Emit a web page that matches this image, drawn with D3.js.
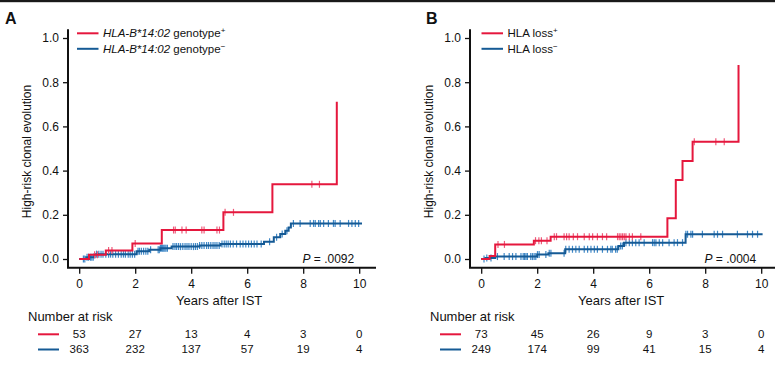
<!DOCTYPE html>
<html>
<head>
<meta charset="utf-8">
<script src="https://cdn.jsdelivr.net/npm/d3@7"></script>
<style>
  html, body { margin: 0; padding: 0; background: #fff; }
  svg { display: block; }
</style>
</head>
<body>
<svg id="chart" width="775" height="366"></svg>
<script>
// ---------------- DATA ----------------
const yearTicks = [0, 2, 4, 6, 8, 10];
const yTicks = [0, 0.2, 0.4, 0.6, 0.8, 1.0];
const xAxisTitle = "Years after IST";
const yAxisTitle = "High-risk clonal evolution";

// Panel A : HLA-B*14:02 genotype
const aPosTimes  = [0, 0.35, 0.95, 1.9, 2.95, 5.15, 6.9, 9.2];
const aPosValues = [0, 0.019, 0.038, 0.07, 0.131, 0.211, 0.338, 0.712];
const aPosEnd = 9.2;
const aPosCensor = [0.55, 0.65, 1.05, 1.17, 2.0, 3.37, 3.43, 3.67, 3.82, 4.38, 4.46, 4.92, 5.01, 5.21, 5.51, 8.31, 8.58];

const aNegTimes  = [0, 0.25, 0.55, 2.05, 2.5, 2.9, 3.3, 4.3, 5.05, 6.6, 6.95, 7.18, 7.36, 7.48, 7.56];
const aNegValues = [0, 0.008, 0.022, 0.035, 0.042, 0.049, 0.056, 0.061, 0.068, 0.078, 0.098, 0.113, 0.128, 0.142, 0.161];
const aNegEnd = 10.1;
const aNegCensor = [0.15, 0.2, 0.28, 0.33, 0.4, 0.45, 0.5, 0.62, 0.7, 0.78, 0.85, 0.95, 1.05, 1.12, 1.2, 1.3, 1.4, 1.5, 1.58, 1.65, 1.75, 1.82, 1.9, 1.98,
  2.1, 2.15, 2.22, 2.3, 2.38, 2.45, 2.55, 2.82, 2.86, 2.9, 2.94, 2.98, 3.02, 3.06, 3.1, 3.15,
  3.35, 3.42, 3.48, 3.55, 3.62, 3.7, 3.78, 3.85, 3.92, 4.0, 4.08, 4.15, 4.22, 4.3, 4.38, 4.46, 4.55, 4.62, 4.7, 4.78, 4.85, 4.92, 5.0,
  5.1, 5.18, 5.25, 5.32, 5.4, 5.5, 5.62, 5.75, 5.85, 5.95, 6.05, 6.15, 6.25, 6.35, 6.5, 6.8, 7.05, 7.25, 7.42,
  7.65, 7.89, 8.25, 8.37, 8.43, 8.55, 8.61, 8.73, 8.9, 9.08, 9.14, 9.32, 9.62, 9.74, 9.86, 9.98];

const aRiskPos = [53, 27, 13, 4, 3, 0];
const aRiskNeg = [363, 232, 137, 57, 19, 4];
const aPValue = ".0092";

// Panel B : HLA loss
const bPosTimes  = [0, 0.3, 0.5, 1.88, 2.48, 6.65, 6.95, 7.19, 7.55, 9.19];
const bPosValues = [0, 0.014, 0.066, 0.083, 0.101, 0.184, 0.357, 0.443, 0.531, 0.878];
const bPosEnd = 9.19;
const bPosCensor = [0.6, 0.83, 1.94, 2.06, 2.15, 2.35, 2.61, 2.69, 2.96, 3.05, 3.14, 3.29, 3.44, 3.68, 3.86, 3.98, 4.15, 4.33, 4.48,
  4.87, 4.93, 4.99, 5.05, 5.11, 5.17, 5.29, 5.4, 5.7, 7.61, 8.38, 8.68];

const bNegTimes  = [0, 0.15, 0.5, 2.0, 2.4, 3.0, 4.9, 5.1, 7.3];
const bNegValues = [0, 0.004, 0.011, 0.02, 0.026, 0.044, 0.059, 0.074, 0.112];
const bNegEnd = 10.05;
const bNegCensor = [0.1, 0.2, 0.35, 0.58, 0.82, 1.0, 1.12, 1.24, 1.42, 1.5, 1.55, 1.6, 1.65, 1.77, 1.83, 1.89, 1.95, 2.01, 2.07,
  2.31, 2.43, 2.49, 2.96, 3.02, 3.14, 3.26, 3.38, 3.5, 3.68, 3.8, 3.92, 4.04, 4.15, 4.33, 4.51, 4.63, 4.68, 4.8, 4.86, 4.98, 5.04,
  5.17, 5.29, 5.4, 5.52, 5.64, 5.82, 6.12, 6.18, 6.24, 6.36, 6.48, 6.71, 6.89, 7.01, 7.19, 7.31, 7.37, 7.49, 7.55, 7.9, 8.32, 8.44,
  8.62, 9.15, 9.51, 9.69, 9.87];

const bRiskPos = [73, 45, 26, 9, 3, 0];
const bRiskNeg = [249, 174, 99, 41, 15, 4];
const bPValue = ".0004";

// ---------------- STYLE ----------------
const RED = "#e5173d", BLUE = "#155a95";
const RED_C = "#ee5a7a", BLUE_C = "#3f88c7";
const FONT = "'Liberation Sans', Arial, sans-serif";
const NARROW = "'Liberation Sans Narrow', 'Liberation Sans', Arial, sans-serif";

const svg = d3.select("#chart");

// top rule
svg.append("rect").attr("x", 0).attr("y", 0).attr("width", 775).attr("height", 2.2).attr("fill", "#1a1a1a");

const panels = [
  {
    label: "A", ox: 0,
    legend: [{ital: "HLA-B*14:02", rest: " genotype", sup: "+"}, {ital: "HLA-B*14:02", rest: " genotype", sup: "\u2212"}],
    legendX: 77,
    pos: {times: aPosTimes, values: aPosValues, end: aPosEnd, censor: aPosCensor},
    neg: {times: aNegTimes, values: aNegValues, end: aNegEnd, censor: aNegCensor},
    riskPos: aRiskPos, riskNeg: aRiskNeg, p: aPValue
  },
  {
    label: "B", ox: 402,
    legend: [{ital: "", rest: "HLA loss", sup: "+"}, {ital: "", rest: "HLA loss", sup: "\u2212"}],
    legendX: 481.5 - 402,
    pos: {times: bPosTimes, values: bPosValues, end: bPosEnd, censor: bPosCensor},
    neg: {times: bNegTimes, values: bNegValues, end: bNegEnd, censor: bNegCensor},
    riskPos: bRiskPos, riskNeg: bRiskNeg, p: bPValue
  }
];

panels.forEach(P => {
  const g = svg.append("g").attr("transform", `translate(${P.ox},0)`);
  const x = d3.scaleLinear().domain([-0.4, 10.6]).range([68, 376]);
  const y = d3.scaleLinear().domain([-0.04, 1.04]).range([267.84, 29.16]);

  // panel letter
  g.append("text").attr("x", P.label === "A" ? 5 : 24).attr("y", 24)
    .attr("font-family", FONT).attr("font-weight", "bold").attr("font-size", 16)
    .attr("fill", "#111").text(P.label);

  // y axis
  const yAx = g.append("g").attr("transform", `translate(${x(-0.4)},0)`)
    .call(d3.axisLeft(y).tickValues(yTicks).tickFormat(d3.format(".1f")).tickSize(5).tickSizeOuter(0).tickPadding(4));
  yAx.select(".domain").remove();
  yAx.selectAll(".tick line").attr("stroke", "#111").attr("stroke-width", 1.3);
  yAx.selectAll(".tick text").attr("font-family", FONT).attr("font-size", 12).attr("fill", "#111");

  // x axis
  const xAx = g.append("g").attr("transform", `translate(0,${y(-0.04)})`)
    .call(d3.axisBottom(x).tickValues(yearTicks).tickFormat(d3.format("d")).tickSize(6).tickSizeOuter(0).tickPadding(6));
  xAx.select(".domain").remove();
  xAx.selectAll(".tick line").attr("stroke", "#111").attr("stroke-width", 1.3);
  xAx.selectAll(".tick text").attr("font-family", FONT).attr("font-size", 12).attr("fill", "#111");

  // axis lines (L shape)
  g.append("path")
    .attr("d", `M${x(-0.4)},${y(1.04)} V${y(-0.04)} H${x(10.6)}`)
    .attr("fill", "none").attr("stroke", "#111").attr("stroke-width", 2);

  // titles
  g.append("text").attr("transform", `translate(${x(-0.4) - 37},${(y(1) + y(0)) / 2 + 3}) rotate(-90)`)
    .attr("text-anchor", "middle").attr("font-family", FONT).attr("font-size", 12).attr("fill", "#111")
    .text(yAxisTitle);
  g.append("text").attr("x", (x(0) + x(10)) / 2).attr("y", 305)
    .attr("text-anchor", "middle").attr("font-family", NARROW).attr("font-size", 13).attr("fill", "#111")
    .text(xAxisTitle);

  // curves
  const line = d3.line().x(d => x(d[0])).y(d => y(d[1])).curve(d3.curveStepAfter);
  const drawSeries = (s, color, ccolor) => {
    const pts = s.times.map((t, i) => [t, s.values[i]]);
    if (s.end > s.times[s.times.length - 1]) pts.push([s.end, s.values[s.values.length - 1]]);
    // censor marks
    const valAt = t => s.values[Math.max(0, d3.bisectRight(s.times, t) - 1)];
    g.append("g").selectAll("line").data(s.censor).join("line")
      .attr("x1", d => x(d)).attr("x2", d => x(d))
      .attr("y1", d => y(valAt(d)) - 3.5).attr("y2", d => y(valAt(d)) + 3.5)
      .attr("stroke", ccolor).attr("stroke-width", 1.2);
    g.append("path").datum(pts).attr("d", line)
      .attr("fill", "none").attr("stroke", color).attr("stroke-width", 2);
  };
  drawSeries(P.neg, BLUE, BLUE_C);
  drawSeries(P.pos, RED, RED_C);

  // legend
  P.legend.forEach((L, i) => {
    const ly = 33.3 + i * 15.5;
    g.append("line").attr("x1", P.legendX).attr("x2", P.legendX + 21.5).attr("y1", ly).attr("y2", ly)
      .attr("stroke", i === 0 ? RED : BLUE).attr("stroke-width", 2);
    const t = g.append("text").attr("x", P.legendX + 26).attr("y", ly + 4)
      .attr("font-family", FONT).attr("font-size", 11.5).attr("fill", "#111");
    if (L.ital) t.append("tspan").attr("font-style", "italic").text(L.ital);
    t.append("tspan").text(L.rest);
    t.append("tspan").attr("font-size", 8).attr("dy", -4).text(L.sup);
  });

  // P value
  const pt = g.append("text").attr("x", x(10) - 5).attr("y", 262.7).attr("text-anchor", "end")
    .attr("font-family", FONT).attr("font-size", 12).attr("fill", "#111");
  pt.append("tspan").attr("font-style", "italic").text("P");
  pt.append("tspan").text(" = " + P.p);

  // number at risk
  const rx = P.label === "A" ? 28 : 430 - P.ox;
  g.append("text").attr("x", rx).attr("y", 320.5)
    .attr("font-family", NARROW).attr("font-size", 13).attr("fill", "#111").text("Number at risk");
  [[P.riskPos, RED, 334.3], [P.riskNeg, BLUE, 349.5]].forEach(([vals, col, ry]) => {
    g.append("line").attr("x1", rx + 10).attr("x2", rx + 31).attr("y1", ry).attr("y2", ry)
      .attr("stroke", col).attr("stroke-width", 2);
    g.append("g").selectAll("text").data(vals).join("text")
      .attr("x", (d, i) => x(yearTicks[i])).attr("y", ry + 3.8)
      .attr("text-anchor", "middle").attr("font-family", FONT).attr("font-size", 11.5).attr("fill", "#111")
      .text(d => d);
  });
});
</script>
</body>
</html>
